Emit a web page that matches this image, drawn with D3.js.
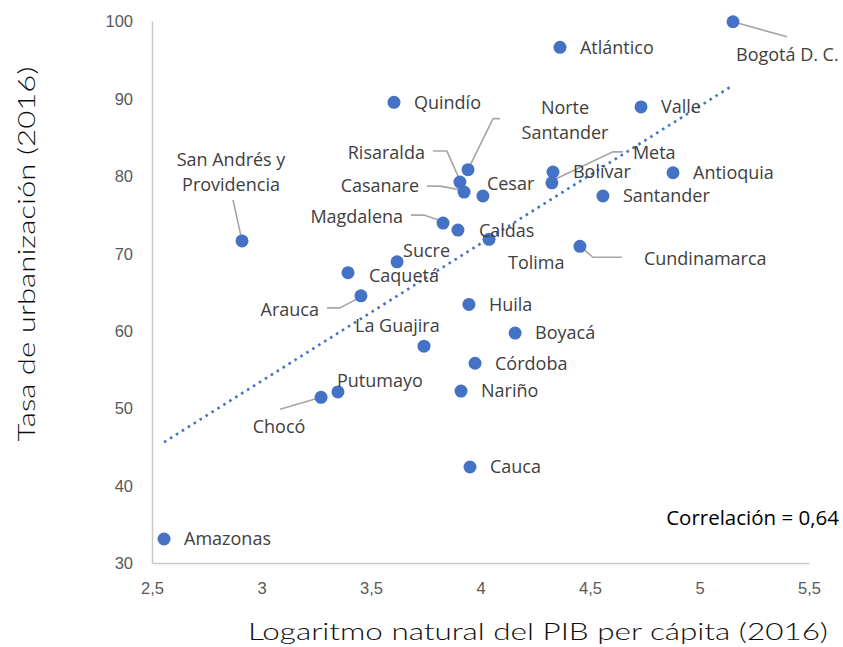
<!DOCTYPE html>
<html>
<head>
<meta charset="utf-8">
<script src="https://cdn.jsdelivr.net/npm/d3@7"></script>
<style>
  body { margin: 0; background: #fff; }
  .tick-label { font-family: "Liberation Sans", sans-serif; font-size: 16.5px; fill: #595959; }
  .axis-title { font-family: "Lato", sans-serif; font-size: 23px; font-weight: 300; fill: #0d0d0d; }
  .pt-label { font-family: "Open Sans", sans-serif; font-size: 18px; fill: #404040; }
</style>
</head>
<body>
<div id="chart"></div>
<script>
// departamentos, log PIB per cápita (x) y tasa de urbanización (y)
const names = ["Amazonas", "San Andrés y Providencia", "Bogotá D. C.", "Atlántico", "Quindío", "Valle",
  "Norte Santander", "Risaralda", "Casanare", "Cesar", "Magdalena", "Caldas", "Tolima", "Sucre",
  "Caquetá", "Arauca", "Huila", "La Guajira", "Boyacá", "Córdoba", "Nariño", "Putumayo", "Chocó",
  "Cauca", "Cundinamarca", "Bolivar", "Meta", "Antioquia", "Santander"];
const logPib = [2.555, 2.911, 5.153, 4.363, 3.605, 4.733,
  3.943, 3.906, 3.925, 4.011, 3.829, 3.897, 4.039, 3.619,
  3.395, 3.454, 3.947, 3.742, 4.158, 3.975, 3.911, 3.349, 3.272,
  3.952, 4.454, 4.331, 4.326, 4.879, 4.559];
const urbanizacion = [33.1, 71.6, 99.9, 96.6, 89.5, 88.9,
  80.8, 79.2, 77.9, 77.4, 73.9, 73.0, 71.8, 68.9,
  67.5, 64.5, 63.4, 58.0, 59.7, 55.8, 52.2, 52.1, 51.4,
  42.4, 70.9, 80.5, 79.1, 80.4, 77.4];
// línea de tendencia (extremos)
const trendX = [2.555, 5.153];
const trendY = [45.6, 91.7];
const xTicks = [2.5, 3, 3.5, 4, 4.5, 5, 5.5];
const yTicks = [30, 40, 50, 60, 70, 80, 90, 100];
const correlacion = "Correlación = 0,64";

// label placement (pixel offsets from the point) and leader lines
const placement = {
  "San Andrés y Providencia": {dx: -11, dy: -81, anchor: "middle", lines: ["San Andrés y", "Providencia"], leader: [[0, 0], [-9, -41]]},
  "Bogotá D. C.": {dx: 3, dy: 33, leader: [[0, 0], [54, 15]]},
  "Norte Santander": {dx: 97, dy: -62, anchor: "middle", lines: ["Norte", "Santander"], leader: [[0, 0], [25, -51], [32, -51]]},
  "Risaralda": {dx: -35, dy: -29, anchor: "end", leader: [[-1, -4], [-13, -31], [-27, -31]]},
  "Casanare": {dx: -45, dy: -6, anchor: "end", leader: [[-2, -2], [-24, -6], [-37, -6]]},
  "Cesar": {dx: 4, dy: -12},
  "Magdalena": {dx: -40, dy: -6, anchor: "end", leader: [[-2, -2], [-19, -8], [-32, -8]]},
  "Caldas": {dx: 21, dy: 1},
  "Tolima": {dx: 19, dy: 23},
  "Sucre": {dx: 6, dy: -11},
  "Caquetá": {dx: 21, dy: 3},
  "Arauca": {dx: -42, dy: 14, anchor: "end", leader: [[-2, 2], [-21, 12], [-34, 12]]},
  "La Guajira": {dx: -69, dy: -21},
  "Putumayo": {dx: -1, dy: -11},
  "Chocó": {dx: -42, dy: 29, anchor: "middle", leader: [[0, 0], [-41, 12]]},
  "Cundinamarca": {dx: 64, dy: 12, leader: [[0, 0], [13, 11], [42, 11]]},
  "Meta": {dx: 81, dy: -30, leader: [[0, -2], [61, -31], [71, -31]]}
};

const W = 843, H = 647;
const margin = {top: 21, right: 34, bottom: 84, left: 152};
const width = W - margin.left - margin.right,
  height = H - margin.top - margin.bottom;

const svg = d3.select("#chart").append("svg")
  .attr("width", W)
  .attr("height", H);

const g = svg.append("g")
  .attr("transform", `translate(${margin.left},${margin.top})`);

const x = d3.scaleLinear().domain([2.5, 5.5]).range([0, width]);
const y = d3.scaleLinear().domain([30, 100]).range([height, 0]);

const fmt = d => String(d).replace(".", ",");

const xAxis = g.append("g")
  .attr("transform", `translate(0,${height})`)
  .call(d3.axisBottom(x).tickValues(xTicks).tickFormat(fmt).tickSize(0).tickPadding(19));
const yAxis = g.append("g")
  .call(d3.axisLeft(y).tickValues(yTicks).tickFormat(fmt).tickSize(0).tickPadding(19));

[xAxis, yAxis].forEach(a => {
  a.select(".domain").attr("stroke", "#c8c8c8").attr("stroke-width", 1.5);
  a.selectAll("text").attr("class", "tick-label").attr("fill", null).attr("font-size", null).attr("font-family", null);
});
yAxis.selectAll("text").attr("dy", "0.35em");

// trend line
g.append("path")
  .datum(trendX.map((v, i) => [v, trendY[i]]))
  .attr("fill", "none")
  .attr("stroke", "#4472C4")
  .attr("stroke-width", 2.6)
  .attr("stroke-dasharray", "2.6 4.4")
  .attr("d", d3.line().x(d => x(d[0])).y(d => y(d[1])));

const data = names.map((n, i) => ({name: n, x: logPib[i], y: urbanizacion[i]}));

// leader lines
g.selectAll(".leader")
  .data(data.filter(d => placement[d.name] && placement[d.name].leader))
  .join("path")
  .attr("class", "leader")
  .attr("fill", "none")
  .attr("stroke", "#a6a6a6")
  .attr("stroke-width", 1.6)
  .attr("d", d => d3.line()(placement[d.name].leader.map(p => [x(d.x) + p[0], y(d.y) + p[1]])));

g.selectAll(".dot")
  .data(data)
  .join("circle")
  .attr("class", "dot")
  .attr("cx", d => x(d.x))
  .attr("cy", d => y(d.y))
  .attr("r", 6.5)
  .attr("fill", "#4472C4");

const labels = g.selectAll(".pt-label")
  .data(data)
  .join("text")
  .attr("class", "pt-label")
  .attr("x", d => x(d.x) + ((placement[d.name] || {}).dx ?? 20))
  .attr("y", d => y(d.y) + ((placement[d.name] || {}).dy ?? 0))
  .attr("dy", "0.35em")
  .attr("text-anchor", d => (placement[d.name] || {}).anchor || "start");

labels.each(function(d) {
  const p = placement[d.name] || {};
  const t = d3.select(this);
  if (p.lines) {
    p.lines.forEach((l, i) => {
      t.append("tspan").attr("x", t.attr("x")).attr("dy", i === 0 ? "0.35em" : "1.4em").text(l);
    });
    t.attr("dy", null);
  } else {
    t.text(d.name);
  }
});

g.append("text")
  .attr("x", width + 30)
  .attr("y", y(35.8))
  .attr("dy", "0.35em")
  .attr("text-anchor", "end")
  .attr("font-family", "Open Sans, sans-serif")
  .attr("font-size", 20.5)
  .attr("fill", "#000")
  .text(correlacion);

// axis titles
svg.append("text")
  .attr("class", "axis-title")
  .attr("x", 538)
  .attr("y", 640)
  .attr("text-anchor", "middle")
  .attr("textLength", 580)
  .attr("lengthAdjust", "spacingAndGlyphs")
  .text("Logaritmo natural del PIB per cápita (2016)");

svg.append("text")
  .attr("class", "axis-title")
  .attr("transform", "translate(35,254) rotate(-90)")
  .attr("text-anchor", "middle")
  .attr("textLength", 375)
  .attr("lengthAdjust", "spacingAndGlyphs")
  .text("Tasa de urbanización (2016)");
</script>
</body>
</html>
